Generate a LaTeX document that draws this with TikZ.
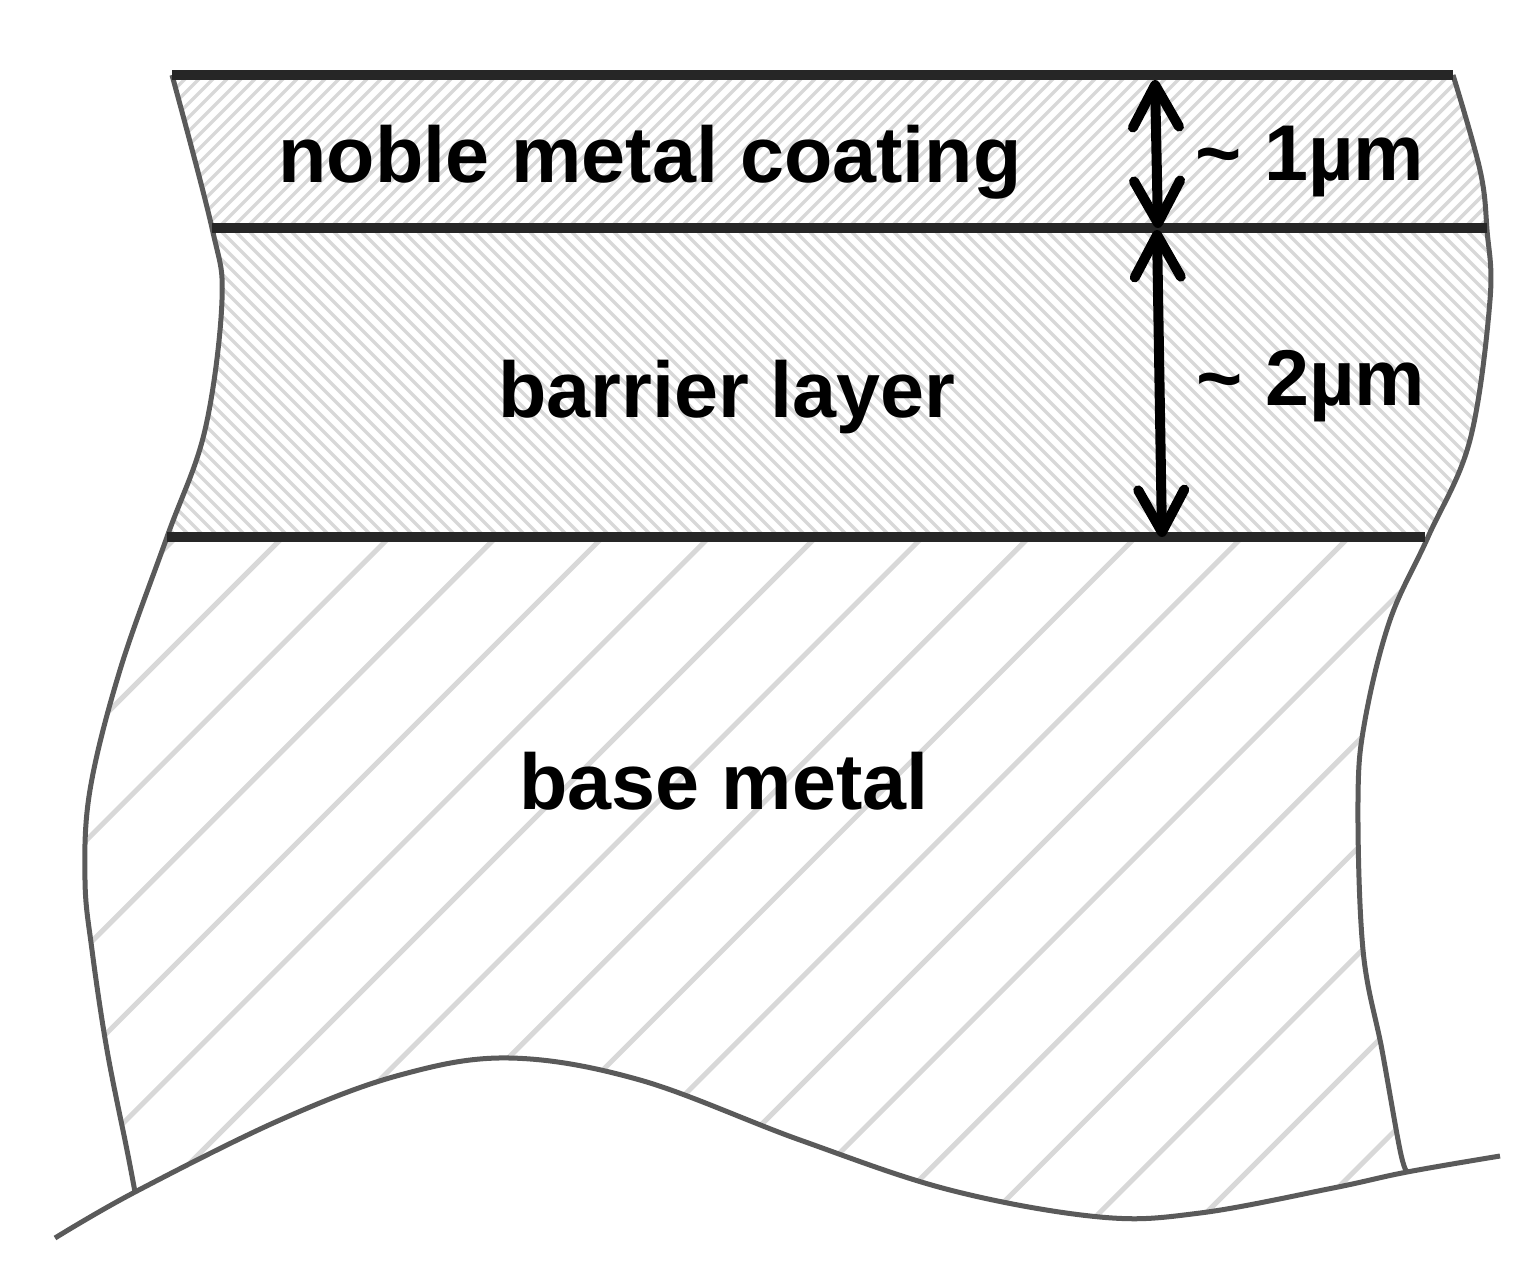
\documentclass[tikz,border=0pt]{standalone}
\usepackage{fontspec}
\setmainfont{Liberation Sans}
\usepackage{tikz}
\usetikzlibrary{arrows.meta, positioning, calc}
\usepackage{xcolor}
\definecolor{edgegray}{RGB}{90,90,90}
\definecolor{hatchgray}{RGB}{216,216,216}
\definecolor{layerline}{RGB}{38,38,38}
\tikzset{
  edgeline/.style={edgegray, line width=0.05cm},
  layerrule/.style={layerline, line width=0.1cm},
  hatchfine/.style={hatchgray, line width=0.035cm},
  hatchwide/.style={hatchgray, line width=0.05cm},
  dimarrow/.style={black, line width=0.1cm, {Straight Barb[length=0.42cm, width=0.46cm, round]}-{Straight Barb[length=0.42cm, width=0.46cm, round]}},
  label/.style={anchor=base, inner sep=0pt, font=\fontsize{22.5}{26}\selectfont\bfseries},
}
\newcommand{\shapeoutline}{plot[smooth, tension=0.6] coordinates {(172,75)(212,228)(222,300)(205,430)(167,537)(120,670)(90,790)(85,880)(92,950)(107,1050)(127,1150)(135,1192)}
  -- plot[smooth, tension=0.6] coordinates {(135,1192)(280,1120)(400,1075)(510,1058)(640,1080)(800,1140)(950,1190)(1100,1217)(1200,1213)(1333,1188)(1407,1172)}
  -- plot[smooth, tension=0.6] coordinates {(1407,1172)(1400,1150)(1382,1050)(1363,950)(1358,800)(1365,720)(1390,620)(1428,537)(1470,440)(1490,300)(1487,230)(1480,170)(1453,75)} -- cycle}
\begin{document}
\begin{tikzpicture}[x=0.01cm, y=-0.01cm]
  \useasboundingbox (0,0) rectangle (1536,1275);
  % Hatching
  \begin{scope}
    \clip \shapeoutline;
    % Coating
    \begin{scope}
      \clip (0,75) rectangle (1536,228);
      \foreach \k in {0,...,120}
        \draw[hatchfine] ({200+14*\k},50) -- ({200+14*\k-250},300);
    \end{scope}
    % Barrier
    \begin{scope}
      \clip (0,228) rectangle (1536,537);
      \foreach \k in {0,...,130}
        \draw[hatchfine] ({-300+14*\k},200) -- ({-300+14*\k+400},600);
    \end{scope}
    % Base
    \begin{scope}
      \clip (0,537) rectangle (1536,1275);
      \foreach \k in {-2,...,22}
        \draw[hatchwide] ({280+106.6*\k},540) -- ({280+106.6*\k-760},1300);
    \end{scope}
  \end{scope}
  % Edges
  \draw[edgeline, smooth, tension=0.6] plot coordinates {(172,75)(212,228)(222,300)(205,430)(167,537)(120,670)(90,790)(85,880)(92,950)(107,1050)(127,1150)(135,1192)};
  \draw[edgeline, smooth, tension=0.6] plot coordinates {(1453,75)(1480,170)(1487,230)(1490,300)(1470,440)(1428,537)(1390,620)(1365,720)(1358,800)(1363,950)(1382,1050)(1400,1150)(1407,1172)};
  \draw[edgeline, smooth, tension=0.6] plot coordinates {(55,1238)(135,1192)(280,1120)(400,1075)(510,1058)(640,1080)(800,1140)(950,1190)(1100,1217)(1200,1213)(1333,1188)(1407,1172)(1500,1156)};
  % Layer rules
  \draw[layerrule] (172,75) -- (1453,75);
  \draw[layerrule] (212,228) -- (1487,228);
  \draw[layerrule] (167,537) -- (1425,537);
  % Arrows
  \coordinate (coattop) at (1155,80);
  \coordinate (coatbot) at (1158,228);
  \coordinate (barrtop) at (1157,230);
  \coordinate (barrbot) at (1162,537);
  \draw[dimarrow] (coattop) -- (coatbot);
  \draw[dimarrow] (barrtop) -- (barrbot);
  % Labels
  \node[label] (coating) at (650,182) {noble metal coating};
  \node[label] (barrier) at (727,417) {barrier layer};
  \node[label] (base) at (724,809) {base metal};
  \node[label] (onemicron) at (1310,180) {\textasciitilde{} 1µm};
  \node[label] (twomicron) at (1311,405) {\textasciitilde{} 2µm};
\end{tikzpicture}
\end{document}
